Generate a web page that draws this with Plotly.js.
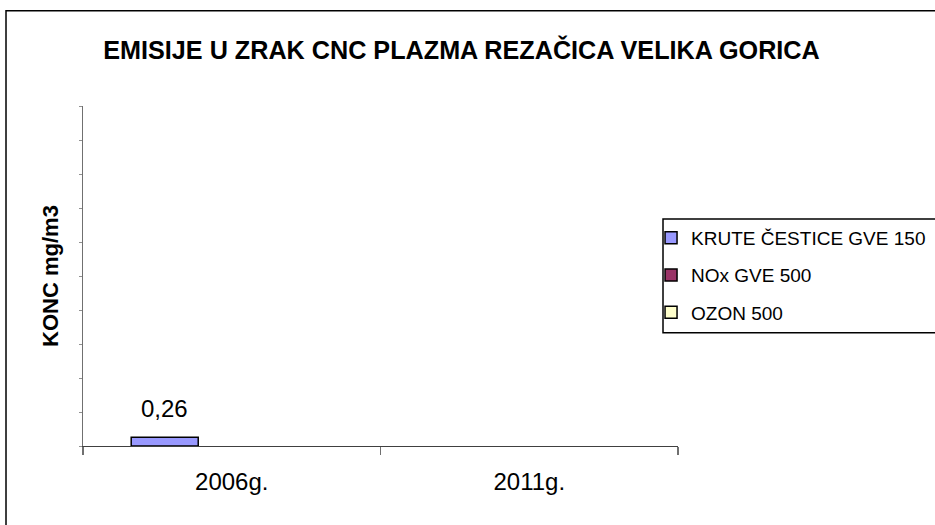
<!DOCTYPE html>
<html>
<head>
<meta charset="utf-8">
<script src="https://cdn.plot.ly/plotly-3.0.1.min.js"></script>
<style>html,body{margin:0;padding:0;background:#fff;}#chart{width:935px;height:525px;}</style>
</head>
<body>
<div id="chart"></div>
<script>
const categories = ["2006g.", "2011g."];
const seriesNames = ["KRUTE ČESTICE GVE 150", "NOx GVE 500", "OZON 500"];
const seriesColors = ["#9999FF", "#993366", "#FFFFCC"];
const kruteCestice = [0.26, null];
const noxValues = [null, null];
const ozonValues = [null, null];
const yTickValues = [0, 1, 2, 3, 4, 5, 6, 7, 8, 9, 10];

const allSeries = [kruteCestice, noxValues, ozonValues];
const FONT = "Liberation Sans, Arial, sans-serif";

const traces = allSeries.map((vals, i) => ({
  type: "bar",
  name: seriesNames[i],
  x: categories,
  y: vals,
  legendgroup: "g" + i,
  marker: { color: seriesColors[i], line: { color: "#000000", width: 1.5 } },
  hoverinfo: "skip"
}));

// value labels from the data
const annotations = [];
allSeries.forEach((vals, si) => {
  vals.forEach((v, ci) => {
    if (v !== null && v !== undefined) {
      annotations.push({
        x: categories[ci], y: v, xref: "x", yref: "y",
        text: String(v).replace(".", ","),
        showarrow: false,
        xshift: (si - 1) * 67,
        yshift: 29,
        yanchor: "middle",
        font: { family: FONT, size: 24, color: "#000" }
      });
    }
  });
});

const layout = {
  width: 935, height: 525,
  margin: { l: 83, r: 257, t: 106, b: 78.5, pad: 0, autoexpand: false },
  paper_bgcolor: "#ffffff", plot_bgcolor: "#ffffff",
  separators: ", ",
  barmode: "group",
  bargap: 0.324, bargroupgap: 0,
  title: {
    text: "EMISIJE U ZRAK CNC PLAZMA REZAČICA VELIKA GORICA",
    font: { family: FONT, size: 25.2, color: "#000", weight: "bold" },
    x: 0.4936, xanchor: "center", xref: "container",
    y: 0.905, yanchor: "middle", yref: "container"
  },
  xaxis: {
    type: "category",
    range: [-0.5, 1.5],
    showline: true, linecolor: "#404040", linewidth: 1,
    ticks: "outside", tickson: "boundaries", ticklen: 8, tickcolor: "#707070", tickwidth: 1.5,
    ticklabelstandoff: 14,
    showgrid: false, zeroline: false,
    tickfont: { family: FONT, size: 24, color: "#000" },
    fixedrange: true
  },
  yaxis: {
    range: [0, 10],
    tickvals: yTickValues,
    showticklabels: false,
    showline: true, linecolor: "#707070", linewidth: 1,
    ticks: "outside", ticklen: 3, tickcolor: "#909090", tickwidth: 1,
    showgrid: false, zeroline: false,
    title: { text: "KONC mg/m3", font: { family: FONT, size: 22, color: "#000", weight: "bold" }, standoff: 14 },
    fixedrange: true
  },
  showlegend: true,
  legend: {
    xref: "container", yref: "container",
    x: 0.6963, y: 0.5829, xanchor: "left", yanchor: "top",
    bgcolor: "rgba(0,0,0,0)", borderwidth: 0,
    font: { family: FONT, size: 19, color: "#000" },
    tracegroupgap: 9.5
  },
  annotations: annotations,
  shapes: [
    { type: "rect", xref: "paper", yref: "paper", x0: -0.1294, x1: 2, y0: -1, y1: 1.2799,
      line: { color: "#000", width: 1.5 }, fillcolor: "rgba(0,0,0,0)", layer: "below" },
    { type: "rect", xref: "paper", yref: "paper", x0: 0.9748, x1: 2, y0: 0.3333, y1: 0.668,
      line: { color: "#000", width: 1.5 }, fillcolor: "rgba(0,0,0,0)", layer: "above" }
  ]
};

Plotly.newPlot("chart", traces, layout, { displayModeBar: false, staticPlot: true });
</script>
</body>
</html>
